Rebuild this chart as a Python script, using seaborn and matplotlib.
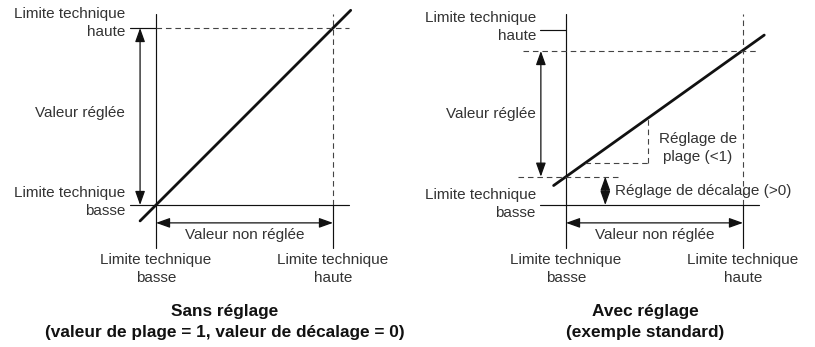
import matplotlib
matplotlib.use("Agg")
import matplotlib.pyplot as plt
import seaborn as sns
import pandas as pd

sns.set_theme(style="white")
plt.rcParams['font.family'] = ['Liberation Sans', 'DejaVu Sans']

# ---- data (normalised: technical lower limit = 0, upper = 1) ----
left_line_x = [-0.09, 1.10]
left_line_y = [-0.09, 1.10]
right_line_x = [-0.07, 1.12]
right_line_y = [0.11, 0.96]
adj_low = 0.16          # adjusted lower value (offset > 0)
adj_high = 0.87         # adjusted upper value
plage_x = 0.466         # span-adjust triangle corner
plage_y_top = 0.50
plage_y_bot = 0.24
plage_x_left = 0.108

left_labels = ["Limite technique\nhaute", "Valeur réglée", "Limite technique\nbasse"]
bottom_labels = ["Limite technique\nbasse", "Limite technique\nhaute"]
titles = [("Sans réglage", "(valeur de plage = 1, valeur de décalage = 0)"),
          ("Avec réglage", "(exemple standard)")]

W, H = 815, 347
SCALE = 177.0
fig = plt.figure(figsize=(W / 100, H / 100), dpi=100)

TXT = '#333333'
FS = 11.0
TFS = 12.4
LS = 1.32
LW_AX = 0.85
LW_D = 0.8
DASH = (0, (5, 3.5))


def make_ax(px0, px1, ox, oy):
    ax = fig.add_axes([px0 / W, 0, (px1 - px0) / W, 1])
    ax.set_xlim((px0 - ox) / SCALE, (px1 - ox) / SCALE)
    ax.set_ylim((oy - H) / SCALE, oy / SCALE)
    ax.axis('off')
    return ax


def arrow(ax, p0, p1):
    ax.annotate('', xy=p1, xytext=p0,
                arrowprops=dict(arrowstyle='<|-|>,head_length=0.7,head_width=0.25',
                                color='#111', lw=0.9, shrinkA=0, shrinkB=0))


def common(ax, df):
    ax.plot([0, 0], [-0.242, 1.08], color='#111', lw=LW_AX)
    ax.plot([-0.147, 1.09], [0, 0], color='#111', lw=LW_AX)
    ax.plot([1, 1], [0, 1.08], color='#444', lw=LW_D, ls=DASH)
    ax.plot([1, 1], [-0.242, 0], color='#111', lw=LW_AX)
    sns.lineplot(data=df, x='x', y='y', ax=ax, color='#111', lw=2.0,
                 legend=False, sort=False)
    ax.set_xlabel('')
    ax.set_ylabel('')
    arrow(ax, (0, -0.101), (1, -0.101))
    ax.text(0.5, -0.168, "Valeur non réglée", ha='center', va='center',
            fontsize=FS, color=TXT)
    for xv, lab in zip([0, 1], bottom_labels):
        ax.text(xv, -0.362, lab, ha='center', va='center', fontsize=FS,
                color=TXT, linespacing=LS)


# ---------------- left panel ----------------
axL = make_ax(0, 410, 156, 205)
dfL = pd.DataFrame({'x': left_line_x, 'y': left_line_y})
common(axL, dfL)
axL.plot([-0.147, 0], [1, 1], color='#111', lw=LW_AX)
axL.plot([0, 1.09], [1, 1], color='#444', lw=LW_D, ls=DASH)
arrow(axL, (-0.09, 0), (-0.09, 1))
for yv, lab in zip([1.028, 0.52, 0.017], left_labels):
    axL.text(-0.175, yv, lab, ha='right', va='center', fontsize=FS,
             color=TXT, linespacing=LS)
axL.text(0.39, -0.60, titles[0][0], ha='center', va='center', fontsize=TFS,
         fontweight='bold', color='#111')
axL.text(0.39, -0.72, titles[0][1], ha='center', va='center', fontsize=TFS,
         fontweight='bold', color='#111')

# ---------------- right panel ----------------
axR = make_ax(410, 815, 566, 205)
dfR = pd.DataFrame({'x': right_line_x, 'y': right_line_y})
common(axR, dfR)
axR.plot([-0.147, 0], [0.99, 0.99], color='#111', lw=LW_AX)
axR.plot([-0.244, 1.09], [adj_high, adj_high], color='#444', lw=LW_D, ls=DASH)
axR.plot([-0.273, 0.295], [adj_low, adj_low], color='#444', lw=LW_D, ls=DASH)
axR.plot([plage_x, plage_x], [plage_y_bot, plage_y_top], color='#444', lw=LW_D, ls=DASH)
axR.plot([plage_x_left, plage_x], [plage_y_bot, plage_y_bot], color='#444', lw=LW_D, ls=DASH)
arrow(axR, (-0.142, adj_low), (-0.142, adj_high))
arrow(axR, (0.222, 0), (0.222, adj_low))
for yv, lab in zip([1.006, 0.514, 0.006], left_labels):
    axR.text(-0.17, yv, lab, ha='right', va='center', fontsize=FS,
             color=TXT, linespacing=LS)
axR.text(0.277, 0.079, "Réglage de décalage (>0)", ha='left', va='center',
         fontsize=FS, color=TXT)
axR.text(0.746, 0.322, "Réglage de\nplage (<1)", ha='center', va='center',
         fontsize=FS, color=TXT, linespacing=LS)
axR.text(0.448, -0.60, titles[1][0], ha='center', va='center', fontsize=TFS,
         fontweight='bold', color='#111')
axR.text(0.448, -0.72, titles[1][1], ha='center', va='center', fontsize=TFS,
         fontweight='bold', color='#111')

fig.savefig('out.png', dpi=100, facecolor='white')
